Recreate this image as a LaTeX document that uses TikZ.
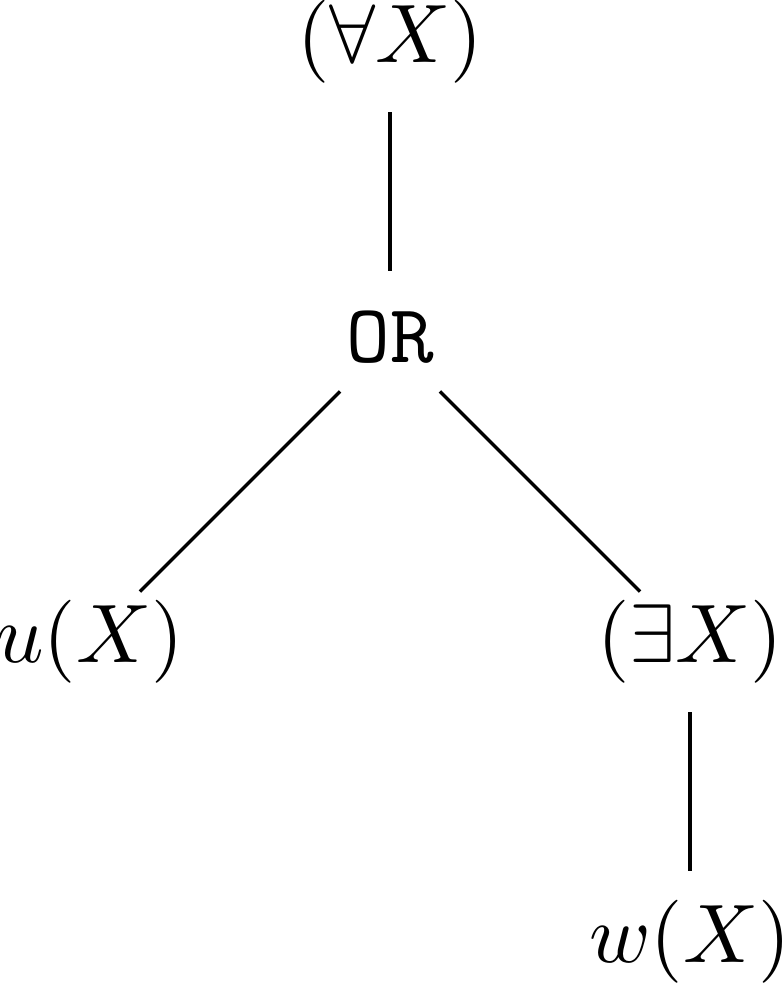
\documentclass[tikz,border=0pt]{standalone}
\begin{document}
\begin{tikzpicture}[x=1.27cm,y=1.27cm,
  term/.style={inner sep=0pt,text height=7.5pt,text depth=2.5pt},
  branch/.style={shorten <=8.5pt,shorten >=8.5pt}]
\useasboundingbox (-1.3,0.1383) rectangle (1.31,-3.1383);
%Root and connective
\node[term] (forall) at (0,0) {$(\forall X)$};
\node[term] (or) at (0,-1) {\texttt{OR}};
%Second level
\node[term] (u) at (-1,-2) {$u(X)$};
\node[term] (exists) at (1,-2) {$(\exists X)$};
%Leaf under exists
\node[term] (w) at (1,-3) {$w(X)$};

%Links
\draw[branch] (forall.center)--(or.center);
\draw[branch] (or.center)--(u.center);
\draw[branch] (or.center)--(exists.center);
\draw[branch] (exists.center)--(w.center);
\end{tikzpicture}
\end{document}
